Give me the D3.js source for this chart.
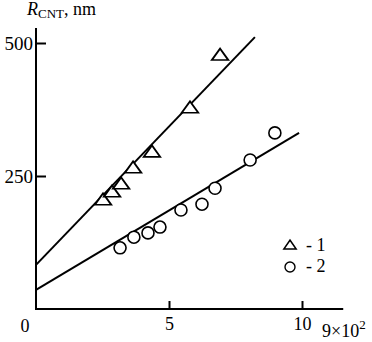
<!DOCTYPE html>
<html>
<head>
<meta charset="utf-8">
<script src="https://cdn.jsdelivr.net/npm/d3@7"></script>
<style>
  body{margin:0;background:#fff;}
  text{font-family:"Liberation Serif","Times New Roman",serif;fill:#000;}
</style>
</head>
<body>
<div id="chart"></div>
<script>
let w=372;
let h=342;
let serif="'Liberation Serif','Times New Roman',serif";

// series 1 (triangles) and 2 (circles), x in units of 9x10^2, y in nm
let tri=[[2.52,205],[2.86,220],[3.2,235],[3.65,265],[4.36,295],[5.79,378],[6.92,477]];
let circ=[[3.16,115],[3.68,135],[4.21,143],[4.66,154],[5.45,186],[6.24,197],[6.73,227],[8.05,280],[8.98,331]];
// fitted lines
let fit1=[[0,83],[8.23,511]];
let fit2=[[0,36],[9.89,331]];
let xTicks=[5,10];
let yTicks=[250,500];

let svg=d3.select("#chart").append("svg")
  .attr("width",w)
  .attr("height",h)
  .attr("font-family",serif);

let xScale=d3.scaleLinear().domain([0,10]).range([36,302]);
let yScale=d3.scaleLinear().domain([0,500]).range([309,43]);

// axes
let xAxis=d3.axisBottom(xScale).tickValues(xTicks).tickSize(-8).tickFormat(d3.format("d"));
let xg=svg.append("g").attr("transform","translate(0,"+yScale(0)+")").call(xAxis)
  .attr("font-family",serif).attr("font-size",18);
xg.select(".domain").remove();
xg.selectAll("line").attr("stroke","#000").attr("stroke-width",2);
xg.selectAll("text").attr("y",21).attr("dy",0);

let yAxis=d3.axisLeft(yScale).tickValues(yTicks).tickSize(-10);
let yg=svg.append("g").attr("transform","translate("+xScale(0)+",0)").call(yAxis)
  .attr("font-family",serif).attr("font-size",19);
yg.select(".domain").remove();
yg.selectAll("line").attr("stroke","#000").attr("stroke-width",2);
yg.selectAll("text").attr("x",-3);

// axis lines
svg.append("line")
  .attr("x1",xScale(0)).attr("x2",xScale(11.55))
  .attr("y1",yScale(0)).attr("y2",yScale(0))
  .attr("stroke","#000").attr("stroke-width",2);
svg.append("line")
  .attr("x1",xScale(0)).attr("x2",xScale(0))
  .attr("y1",yScale(0)+1).attr("y2",yScale(528))
  .attr("stroke","#000").attr("stroke-width",2);

svg.append("text").text("0")
  .attr("x",xScale(0)-11).attr("y",yScale(0)+23)
  .attr("text-anchor","middle")
  .style("font-size","18px");

// fit lines
let line=d3.line().x(d=>xScale(d[0])).y(d=>yScale(d[1]));
[fit1,fit2].forEach(function(f){
  svg.append("path").attr("d",line(f))
    .attr("fill","none").attr("stroke","#000").attr("stroke-width",2);
});

// markers
let triPath=d3.symbol().type(d3.symbolTriangle).size(75);
svg.selectAll(".tri").data(tri).enter()
  .append("path")
  .attr("class","tri")
  .attr("d",triPath)
  .attr("transform",d=>"translate("+xScale(d[0])+","+(yScale(d[1])+1)+") scale(1.25,1)")
  .attr("fill","#fff")
  .attr("stroke","#000")
  .attr("stroke-width",1.6);

svg.selectAll(".circ").data(circ).enter()
  .append("circle")
  .attr("class","circ")
  .attr("cx",d=>xScale(d[0]))
  .attr("cy",d=>yScale(d[1]))
  .attr("r",6)
  .attr("fill","#fff")
  .attr("stroke","#000")
  .attr("stroke-width",1.6);

// legend
svg.append("path").attr("d",d3.symbol().type(d3.symbolTriangle).size(45)())
  .attr("transform","translate(290,246) scale(1.2,1)")
  .attr("fill","#fff").attr("stroke","#000").attr("stroke-width",1.4);
svg.append("text").text("- 1").attr("x",306).attr("y",251).style("font-size","18px");
svg.append("circle").attr("cx",290).attr("cy",267).attr("r",5)
  .attr("fill","#fff").attr("stroke","#000").attr("stroke-width",1.4);
svg.append("text").text("- 2").attr("x",306).attr("y",272).style("font-size","18px");

// axis titles
let yt=svg.append("text").attr("x",27).attr("y",15).style("font-size","18px");
yt.append("tspan").text("R").style("font-style","italic");
yt.append("tspan").text("CNT").attr("dy",3).style("font-size","13px");
yt.append("tspan").text(", nm").attr("dy",-3);

let xt=svg.append("text").attr("x",322).attr("y",337).style("font-size","18px");
xt.append("tspan").text("9×10");
xt.append("tspan").text("2").attr("dy",-8).style("font-size","13px");
</script>
</body>
</html>
